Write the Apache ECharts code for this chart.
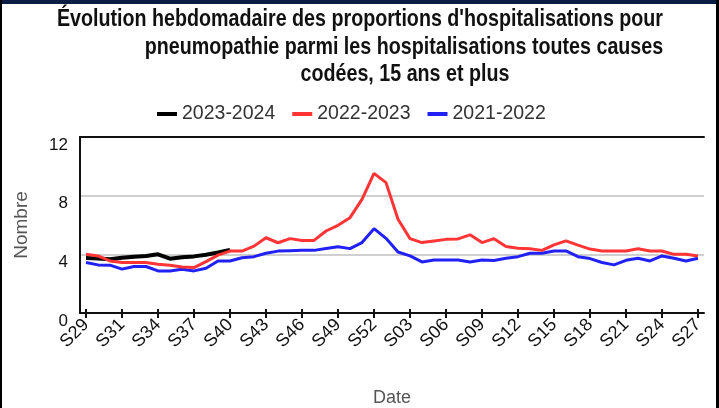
<!DOCTYPE html>
<html>
<head>
<meta charset="utf-8">
<script src="https://cdn.jsdelivr.net/npm/echarts@6/dist/echarts.min.js"></script>
<style>
  html, body { margin: 0; padding: 0; background: #fff; }
  #chart { width: 719px; height: 408px; }
</style>
</head>
<body>
<div id="chart"></div>
<script>
// Weekly share of pneumonia among all coded hospitalisations, people aged 15+
const weeks = [];
for (let w = 28; w <= 52; w++) weeks.push('S' + String(w).padStart(2, '0'));
for (let w = 1; w <= 27; w++) weeks.push('S' + String(w).padStart(2, '0'));

// Labels shown under every third week
const tickLabels = ['S29', 'S31', 'S34', 'S37', 'S40', 'S43', 'S46', 'S49', 'S52',
  'S03', 'S06', 'S09', 'S12', 'S15', 'S18', 'S21', 'S24', 'S27'];

const seasonNames = ['2023-2024', '2022-2023', '2021-2022'];

const season2023 = [3.75, 3.72, 3.66, 3.77, 3.84, 3.89, 4.0, 3.7, 3.8, 3.86, 3.97, 4.12, 4.3];

const season2022 = [4.0, 3.89, 3.55, 3.44, 3.44, 3.44, 3.32, 3.26, 3.14, 3.1,
  3.5, 3.95, 4.22, 4.22, 4.56, 5.13, 4.79, 5.07, 4.95, 4.95,
  5.59, 5.98, 6.5, 7.75, 9.52, 8.89, 6.39, 5.07, 4.8, 4.91,
  5.02, 5.05, 5.33, 4.8, 5.07, 4.54, 4.41, 4.38, 4.27, 4.65,
  4.92, 4.63, 4.36, 4.23, 4.23, 4.23, 4.38, 4.23, 4.23, 4.0,
  4.0, 3.89];

const season2021 = [3.44, 3.28, 3.26, 2.99, 3.17, 3.17, 2.87, 2.87, 2.99, 2.87,
  3.05, 3.55, 3.55, 3.77, 3.84, 4.07, 4.22, 4.25, 4.27, 4.27,
  4.4, 4.52, 4.39, 4.8, 5.75, 5.09, 4.16, 3.89, 3.48, 3.61,
  3.61, 3.61, 3.48, 3.61, 3.58, 3.73, 3.84, 4.07, 4.07, 4.23,
  4.23, 3.84, 3.71, 3.44, 3.28, 3.59, 3.73, 3.55, 3.89, 3.73,
  3.55, 3.73];

const titleLines = [
  { text: "Évolution hebdomadaire des proportions d'hospitalisations pour", cx: 360, cy: 19 },
  { text: 'pneumopathie parmi les hospitalisations toutes causes', cx: 404, cy: 47 },
  { text: 'codées, 15 ans et plus', cx: 405, cy: 74 }
];

const FONT = 'Liberation Sans, Arial, sans-serif';
const chart = echarts.init(document.getElementById('chart'), null, { renderer: 'canvas' });

const labelFmt = (v, i) => (i % 3 === 0 ? tickLabels[i / 3] : '');

// Condensed bold heading lines
const titleGraphics = titleLines.map(t => ({
  type: 'text',
  x: t.cx,
  y: t.cy,
  scaleX: 0.82,
  z: 50,
  style: {
    text: t.text,
    font: 'bold 24px "Liberation Sans", Arial, sans-serif',
    fill: '#111',
    textAlign: 'center',
    textVerticalAlign: 'middle'
  }
}));

chart.setOption({
  animation: false,
  backgroundColor: '#fff',
  textStyle: { fontFamily: FONT },
  legend: {
    left: 152,
    top: 99,
    icon: 'rect',
    itemWidth: 20,
    itemHeight: 4,
    itemGap: 17,
    textStyle: { fontSize: 19.5, color: '#333', fontFamily: FONT },
    data: seasonNames
  },
  grid: { left: 80, right: 15, top: 137, bottom: 94 },
  xAxis: [
    {
      type: 'category',
      data: weeks,
      boundaryGap: true,
      name: 'Date',
      nameLocation: 'middle',
      nameGap: 76,
      nameTextStyle: { fontSize: 18, color: '#555', fontFamily: FONT },
      axisLine: { show: true, lineStyle: { color: '#111', width: 2 } },
      axisTick: { show: true, alignWithLabel: true, interval: 2, length: 5, lineStyle: { color: '#111', width: 2 } },
      axisLabel: { interval: 2, rotate: 45, margin: 9, fontSize: 18, color: '#111', formatter: labelFmt },
      splitLine: { show: false }
    },
    {
      // inner half of the crossing tick marks
      type: 'category',
      data: weeks,
      position: 'bottom',
      boundaryGap: true,
      axisLine: { show: false },
      axisTick: { show: true, inside: true, alignWithLabel: true, interval: 2, length: 4, lineStyle: { color: '#111', width: 2 } },
      axisLabel: { show: false },
      splitLine: { show: false }
    },
    {
      // closing line along the top of the plot
      type: 'category',
      data: weeks,
      position: 'top',
      boundaryGap: true,
      axisLine: { show: true, lineStyle: { color: '#111', width: 2 } },
      axisTick: { show: false },
      axisLabel: { show: false },
      splitLine: { show: false }
    }
  ],
  yAxis: {
    type: 'value',
    min: 0,
    max: 12,
    interval: 4,
    name: 'Nombre',
    nameLocation: 'middle',
    nameGap: 49,
    nameTextStyle: { fontSize: 19, color: '#555', fontFamily: FONT },
    axisLine: { show: true, lineStyle: { color: '#111', width: 2 } },
    axisTick: { show: false },
    axisLabel: { fontSize: 17, color: '#111', margin: 12, verticalAlign: 'top', lineHeight: 16 },
    splitLine: { show: true, lineStyle: { color: '#cfcfcf', width: 2 } }
  },
  series: [
    {
      name: seasonNames[0], type: 'line', data: season2023, symbol: 'none',
      itemStyle: { color: '#000' }, lineStyle: { color: '#000', width: 4 }, z: 3
    },
    {
      name: seasonNames[1], type: 'line', data: season2022, symbol: 'none',
      itemStyle: { color: '#ff3535' }, lineStyle: { color: '#ff3535', width: 3 }, z: 4
    },
    {
      name: seasonNames[2], type: 'line', data: season2021, symbol: 'none',
      itemStyle: { color: '#2121f5' }, lineStyle: { color: '#2121f5', width: 3 }, z: 2
    }
  ],
  graphic: titleGraphics.concat([
    { type: 'rect', shape: { x: 0, y: 0, width: 719, height: 4 }, style: { fill: '#0c1d45' }, z: 100 },
    { type: 'rect', shape: { x: 0, y: 0, width: 2, height: 408 }, style: { fill: '#000' }, z: 100 },
    { type: 'rect', shape: { x: 716, y: 0, width: 3, height: 408 }, style: { fill: '#000' }, z: 100 }
  ])
});
</script>
</body>
</html>
